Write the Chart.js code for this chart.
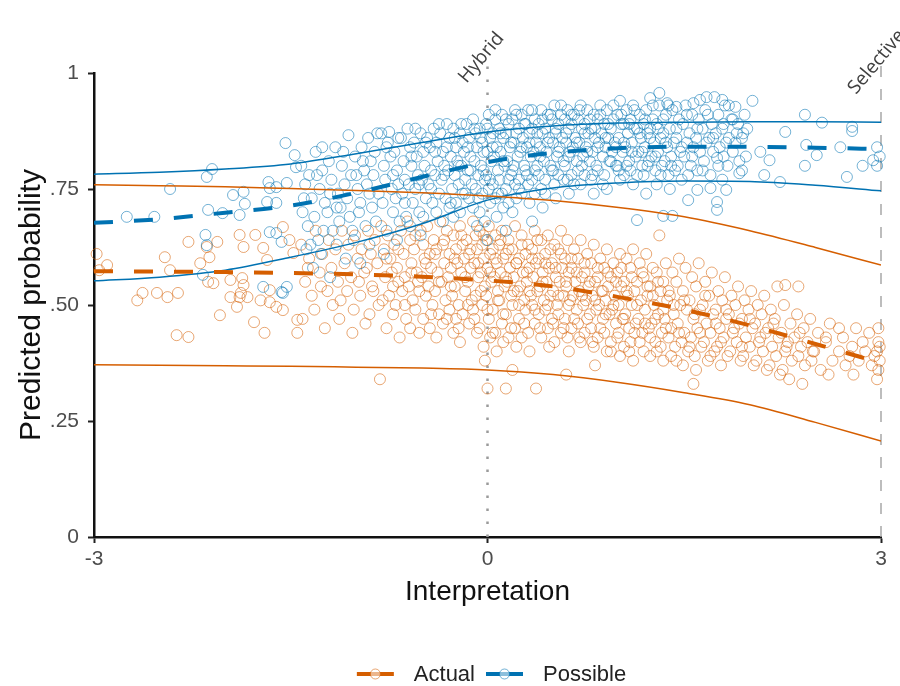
<!DOCTYPE html>
<html>
<head>
<meta charset="utf-8">
<script src="https://cdn.jsdelivr.net/npm/chart.js@4"></script>
<style>
  html, body { margin: 0; padding: 0; background: #fff; }
</style>
</head>
<body>
<canvas id="grafico" width="900" height="686"></canvas>
<script>
// curvas (media e intervalo)
const curveX = [-3, -2.5, -2, -1.5, -1, -0.5, 0, 0.5, 1, 1.5, 2, 2.5, 3];
const actualMean  = [0.573, 0.572, 0.571, 0.569, 0.566, 0.561, 0.553, 0.540, 0.517, 0.490, 0.456, 0.416, 0.375];
const actualUpper = [0.759, 0.757, 0.755, 0.751, 0.747, 0.742, 0.735, 0.725, 0.710, 0.690, 0.660, 0.624, 0.586];
const actualLower = [0.371, 0.370, 0.369, 0.368, 0.366, 0.364, 0.360, 0.350, 0.333, 0.311, 0.285, 0.247, 0.207];
const possibleMean  = [0.677, 0.685, 0.699, 0.714, 0.742, 0.776, 0.808, 0.828, 0.838, 0.841, 0.841, 0.839, 0.836];
const possibleUpper = [0.782, 0.786, 0.793, 0.804, 0.826, 0.850, 0.873, 0.886, 0.892, 0.894, 0.895, 0.895, 0.894];
const possibleLower = [0.552, 0.560, 0.575, 0.603, 0.635, 0.675, 0.726, 0.752, 0.763, 0.767, 0.766, 0.758, 0.746];

const seriesNames = ['Actual', 'Possible'];
const xTicks = [-3, 0, 3];
const yTicks = [0, 0.25, 0.5, 0.75, 1];
const yTickLabels = ['0', '.25', '.50', '.75', '1'];
const refLines = [0, 3];
const refLabels = ['Hybrid', 'Selective'];

// pontos individuais (x, y)
const actualPoints = [
  [-2.98,0.61],[-2.96,0.575],[-2.9,0.586],[-2.67,0.51],[-2.63,0.526],[-2.52,0.526],[-2.46,0.603],[-2.44,0.517],[-2.42,0.575],
  [-2.37,0.435],[-2.36,0.526],[-2.28,0.431],[-2.28,0.636],[-2.19,0.59],[-2.14,0.625],[-2.12,0.603],[-2.13,0.55],[-2.09,0.547],
  [-2.06,0.636],[-2.04,0.478],[-1.96,0.517],[-1.96,0.554],[-1.91,0.496],[-1.89,0.517],[-1.89,0.651],[-1.88,0.526],[-1.87,0.558],
  [-1.86,0.543],[-1.86,0.625],[-1.83,0.517],[-1.78,0.463],[-1.77,0.651],[-1.73,0.51],[-1.71,0.623],[-1.70,0.44],[-1.68,0.597],
  [-1.66,0.506],[-1.66,0.532],[-1.61,0.496],[-1.56,0.489],[-1.56,0.668],[-1.51,0.64],[-1.48,0.612],[-1.45,0.468],[-1.45,0.44],
  [-1.42,0.63],[-1.39,0.55],[-1.41,0.47],[-1.36,0.60],[-1.34,0.52],[-1.37,0.58],[-1.31,0.66],[-1.28,0.57],[-1.32,0.49],
  [-1.26,0.61],[-1.24,0.45],[-1.27,0.54],[-1.21,0.64],[-1.19,0.58],[-1.22,0.53],[-1.18,0.50],[-1.16,0.62],[-1.14,0.55],[-1.13,0.47],
  [-1.11,0.66],[-1.09,0.59],[-1.12,0.51],[-1.06,0.63],[-1.04,0.56],[-1.07,0.53],[-1.03,0.44],[-1.01,0.65],[-0.99,0.60],[-0.98,0.55],[-1.02,0.49],
  [-0.96,0.62],[-0.94,0.57],[-0.97,0.52],[-0.93,0.46],[-0.91,0.66],[-0.89,0.61],[-0.92,0.58],[-0.88,0.54],[-0.90,0.48],
  [-0.86,0.64],[-0.84,0.59],[-0.87,0.53],[-0.83,0.50],[-0.82,0.34],[-0.81,0.67],[-0.79,0.62],[-0.78,0.56],[-0.80,0.51],[-0.77,0.45],
  [-0.76,0.65],[-0.74,0.60],[-0.73,0.57],[-0.75,0.52],[-0.72,0.48],[-0.71,0.63],[-0.69,0.58],[-0.68,0.55],[-0.70,0.50],[-0.67,0.43],
  [-0.66,0.66],[-0.64,0.61],[-0.63,0.56],[-0.65,0.53],[-0.62,0.47],[-0.61,0.68],[-0.59,0.64],[-0.58,0.59],[-0.60,0.54],[-0.57,0.51],[-0.59,0.45],
  [-0.56,0.62],[-0.54,0.57],[-0.53,0.55],[-0.55,0.49],[-0.52,0.44],[-0.51,0.66],[-0.49,0.63],[-0.48,0.60],[-0.50,0.56],[-0.47,0.52],[-0.49,0.47],
  [-0.46,0.67],[-0.44,0.61],[-0.43,0.58],[-0.45,0.54],[-0.42,0.50],[-0.44,0.45],[-0.41,0.64],[-0.39,0.62],[-0.38,0.57],[-0.40,0.53],[-0.37,0.48],[-0.39,0.43],
  [-0.36,0.68],[-0.34,0.63],[-0.33,0.59],[-0.35,0.55],[-0.32,0.51],[-0.34,0.46],[-0.31,0.66],[-0.29,0.61],[-0.28,0.58],[-0.30,0.56],[-0.27,0.52],[-0.29,0.49],[-0.26,0.44],
  [-0.26,0.65],[-0.24,0.62],[-0.23,0.59],[-0.25,0.54],[-0.22,0.50],[-0.24,0.47],[-0.21,0.67],[-0.19,0.63],[-0.18,0.60],[-0.20,0.57],[-0.17,0.53],[-0.19,0.48],[-0.21,0.42],
  [-0.16,0.64],[-0.14,0.61],[-0.13,0.58],[-0.15,0.55],[-0.12,0.51],[-0.14,0.46],[-0.11,0.68],[-0.09,0.65],[-0.08,0.62],[-0.10,0.59],[-0.07,0.56],[-0.09,0.52],[-0.11,0.49],[-0.08,0.44],
  [-0.06,0.66],[-0.04,0.63],[-0.03,0.60],[-0.05,0.57],[-0.02,0.54],[-0.04,0.50],[-0.06,0.45],[-0.03,0.41],
  [0.01,0.67],[-0.01,0.64],[0.02,0.61],[0.00,0.58],[0.03,0.55],[-0.01,0.52],[0.01,0.47],[0.02,0.43],[-0.02,0.38],[0.00,0.32],
  [0.06,0.65],[0.04,0.62],[0.07,0.59],[0.05,0.56],[0.08,0.53],[0.04,0.49],[0.06,0.44],[0.07,0.40],
  [0.11,0.66],[0.09,0.63],[0.12,0.60],[0.10,0.57],[0.13,0.54],[0.09,0.51],[0.11,0.46],[0.12,0.42],[0.14,0.32],
  [0.16,0.64],[0.14,0.61],[0.17,0.58],[0.15,0.55],[0.18,0.52],[0.14,0.48],[0.16,0.43],
  [0.21,0.67],[0.19,0.62],[0.22,0.59],[0.20,0.56],[0.23,0.53],[0.19,0.50],[0.21,0.45],[0.22,0.41],[0.19,0.36],
  [0.26,0.65],[0.24,0.60],[0.27,0.57],[0.25,0.54],[0.28,0.51],[0.24,0.47],[0.26,0.43],
  [0.31,0.63],[0.29,0.61],[0.32,0.58],[0.30,0.55],[0.33,0.52],[0.29,0.49],[0.31,0.44],[0.32,0.40],[0.37,0.32],
  [0.36,0.66],[0.34,0.62],[0.37,0.59],[0.35,0.56],[0.38,0.53],[0.34,0.50],[0.36,0.46],
  [0.41,0.64],[0.39,0.60],[0.42,0.57],[0.40,0.54],[0.43,0.51],[0.39,0.48],[0.41,0.43],
  [0.46,0.65],[0.44,0.61],[0.47,0.58],[0.45,0.55],[0.48,0.52],[0.44,0.49],[0.46,0.45],[0.47,0.41],
  [0.51,0.63],[0.49,0.59],[0.52,0.56],[0.50,0.53],[0.53,0.50],[0.49,0.47],[0.51,0.42],
  [0.56,0.66],[0.54,0.62],[0.57,0.58],[0.55,0.55],[0.58,0.52],[0.54,0.48],[0.56,0.44],
  [0.61,0.64],[0.59,0.60],[0.62,0.57],[0.60,0.54],[0.63,0.51],[0.59,0.47],[0.61,0.43],[0.62,0.40],[0.60,0.35],
  [0.66,0.62],[0.64,0.58],[0.67,0.55],[0.65,0.52],[0.68,0.49],[0.64,0.45],
  [0.71,0.64],[0.69,0.60],[0.72,0.56],[0.70,0.53],[0.73,0.50],[0.69,0.46],[0.71,0.42],
  [0.76,0.61],[0.74,0.57],[0.77,0.54],[0.75,0.51],[0.78,0.48],[0.74,0.44],
  [0.81,0.63],[0.79,0.59],[0.82,0.55],[0.80,0.52],[0.83,0.49],[0.79,0.45],[0.81,0.41],[0.82,0.37],
  [0.86,0.60],[0.84,0.56],[0.87,0.53],[0.85,0.50],[0.88,0.47],[0.84,0.43],
  [0.91,0.62],[0.89,0.58],[0.92,0.54],[0.90,0.51],[0.93,0.48],[0.89,0.44],[0.91,0.40],
  [0.96,0.59],[0.94,0.56],[0.97,0.52],[0.95,0.49],[0.98,0.46],[0.94,0.42],
  [1.01,0.61],[0.99,0.57],[1.02,0.54],[1.00,0.50],[1.03,0.47],[0.99,0.43],[1.01,0.39],
  [1.06,0.60],[1.04,0.55],[1.07,0.52],[1.05,0.48],[1.08,0.45],[1.04,0.41],
  [1.11,0.62],[1.09,0.58],[1.12,0.53],[1.10,0.50],[1.13,0.46],[1.09,0.42],[1.11,0.38],
  [1.16,0.59],[1.14,0.55],[1.17,0.51],[1.15,0.47],[1.18,0.44],
  [1.21,0.61],[1.19,0.56],[1.22,0.52],[1.20,0.49],[1.23,0.45],[1.19,0.40],
  [1.26,0.58],[1.24,0.54],[1.27,0.50],[1.25,0.46],[1.28,0.42],[1.24,0.39],
  [1.31,0.65],[1.29,0.57],[1.32,0.53],[1.30,0.48],[1.33,0.44],[1.29,0.40],
  [1.36,0.59],[1.34,0.55],[1.37,0.51],[1.35,0.47],[1.38,0.43],[1.34,0.38],
  [1.41,0.57],[1.39,0.52],[1.42,0.48],[1.40,0.45],[1.43,0.41],
  [1.46,0.60],[1.44,0.55],[1.47,0.50],[1.45,0.46],[1.48,0.42],[1.44,0.38],
  [1.51,0.58],[1.49,0.53],[1.52,0.49],[1.50,0.44],[1.53,0.40],[1.49,0.37],
  [1.56,0.56],[1.54,0.51],[1.57,0.47],[1.55,0.43],[1.58,0.39],[1.57,0.33],
  [1.61,0.59],[1.59,0.54],[1.62,0.49],[1.60,0.45],[1.63,0.41],[1.59,0.36],
  [1.66,0.55],[1.64,0.50],[1.67,0.46],[1.65,0.42],[1.68,0.38],
  [1.71,0.57],[1.69,0.52],[1.72,0.48],[1.70,0.44],[1.73,0.40],
  [1.76,0.53],[1.74,0.49],[1.77,0.45],[1.75,0.41],[1.78,0.37],
  [1.81,0.56],[1.79,0.51],[1.82,0.47],[1.80,0.43],[1.83,0.39],
  [1.86,0.52],[1.84,0.48],[1.87,0.44],[1.85,0.40],
  [1.91,0.54],[1.89,0.50],[1.92,0.46],[1.90,0.42],[1.93,0.38],
  [1.96,0.51],[1.94,0.47],[1.97,0.43],[1.95,0.39],
  [2.01,0.53],[1.99,0.49],[2.02,0.45],[2.00,0.41],[2.03,0.37],
  [2.06,0.50],[2.04,0.46],[2.07,0.42],[2.05,0.38],
  [2.11,0.52],[2.09,0.48],[2.12,0.44],[2.10,0.40],[2.13,0.36],
  [2.16,0.49],[2.14,0.45],[2.17,0.41],[2.15,0.37],
  [2.21,0.54],[2.19,0.47],[2.22,0.43],[2.20,0.39],[2.23,0.35],
  [2.26,0.50],[2.24,0.44],[2.27,0.40],[2.25,0.36],[2.27,0.543],
  [2.31,0.46],[2.29,0.42],[2.32,0.38],[2.30,0.34],
  [2.36,0.48],[2.34,0.43],[2.37,0.39],[2.37,0.54],
  [2.41,0.45],[2.39,0.41],[2.42,0.37],[2.40,0.33],
  [2.46,0.47],[2.44,0.42],[2.47,0.38],
  [2.52,0.44],[2.49,0.40],[2.54,0.36],
  [2.61,0.46],[2.58,0.42],[2.63,0.38],[2.60,0.35],
  [2.71,0.43],[2.68,0.40],[2.73,0.37],
  [2.81,0.45],[2.78,0.41],[2.83,0.38],[2.79,0.35],
  [2.91,0.44],[2.88,0.40],[2.93,0.37],
  [2.98,0.42],[2.97,0.40],[2.99,0.38],[2.98,0.36],[2.97,0.34],[2.98,0.45],[2.99,0.41],
  // segunda camada do nucleo denso
  [-0.77,0.60],[-0.72,0.54],[-0.68,0.62],[-0.63,0.50],[-0.58,0.57],[-0.55,0.65],[-0.52,0.53],[-0.47,0.59],[-0.43,0.48],[-0.40,0.61],
  [-0.37,0.55],[-0.33,0.64],[-0.31,0.47],[-0.28,0.54],[-0.25,0.60],[-0.22,0.45],[-0.20,0.65],[-0.17,0.56],[-0.15,0.50],[-0.13,0.62],
  [-0.10,0.47],[-0.07,0.59],[-0.05,0.53],[-0.03,0.65],[0.00,0.49],[0.02,0.57],[0.04,0.44],[0.06,0.60],[0.08,0.51],[0.10,0.64],
  [0.12,0.48],[0.14,0.56],[0.16,0.62],[0.18,0.45],[0.20,0.53],[0.22,0.59],[0.24,0.50],[0.26,0.63],[0.28,0.46],[0.30,0.57],
  [0.32,0.53],[0.34,0.60],[0.36,0.49],[0.38,0.64],[0.40,0.45],[0.42,0.55],[0.44,0.59],[0.46,0.50],[0.48,0.62],[0.50,0.46],
  [0.52,0.58],[0.54,0.52],[0.56,0.61],[0.58,0.45],[0.60,0.55],[0.62,0.50],[0.64,0.60],[0.66,0.47],[0.68,0.57],[0.70,0.43],
  [0.72,0.52],[0.74,0.59],[0.76,0.47],[0.78,0.55],[0.80,0.42],[0.82,0.51],[0.84,0.58],[0.86,0.45],[0.88,0.53],[0.90,0.48],
  [0.92,0.57],[0.94,0.40],[0.96,0.50],[0.98,0.55],[1.00,0.44],[1.02,0.58],[1.04,0.47],[1.06,0.53],[1.08,0.40],[1.10,0.56],
  [1.12,0.44],[1.14,0.50],[1.16,0.42],[1.18,0.57],[1.20,0.46],[1.22,0.54],[1.24,0.43],[1.26,0.52],[1.28,0.47],[1.30,0.55],
  [1.32,0.41],[1.34,0.49],[1.36,0.45],[1.38,0.53],[1.40,0.39],[1.42,0.50],[1.46,0.44],[1.50,0.51],[1.54,0.41],[1.58,0.48],
  [1.62,0.44],[1.66,0.52],[1.70,0.39],[1.74,0.46],[1.78,0.42],[1.82,0.49],[1.88,0.45],[1.94,0.41],[2.00,0.47],[2.08,0.43],
  [2.18,0.46],[2.28,0.41],[2.38,0.44],[2.48,0.40],[2.58,0.43],[2.68,0.45],[2.76,0.39],[2.86,0.42],[2.95,0.39]
];

const possiblePoints = [
  [-2.75,0.69],[-2.54,0.69],[-2.42,0.75],[-2.15,0.651],[-2.14,0.776],[-2.14,0.629],[-2.13,0.705],[-2.17,0.565],[-2.10,0.793],
  [-2.02,0.698],[-1.94,0.737],[-1.89,0.694],[-1.86,0.744],[-1.85,0.718],[-1.71,0.539],[-1.68,0.722],[-1.67,0.765],[-1.66,0.752],
  [-1.66,0.657],[-1.61,0.754],[-1.61,0.72],[-1.61,0.655],[-1.57,0.636],[-1.57,0.528],[-1.54,0.849],[-1.53,0.763],[-1.53,0.539],
  [-1.47,0.823],[-1.46,0.797],[-1.56,0.526],
  [-1.42,0.80],[-1.39,0.76],[-1.41,0.70],[-1.38,0.62],[-1.36,0.78],[-1.34,0.73],[-1.37,0.67],[-1.33,0.58],
  [-1.31,0.83],[-1.28,0.75],[-1.32,0.69],[-1.29,0.64],[-1.26,0.79],[-1.24,0.72],[-1.27,0.61],[-1.26,0.84],
  [-1.21,0.81],[-1.19,0.77],[-1.22,0.70],[-1.18,0.66],[-1.20,0.56],[-1.16,0.84],[-1.14,0.74],[-1.13,0.68],[-1.15,0.63],
  [-1.11,0.80],[-1.09,0.76],[-1.12,0.71],[-1.08,0.60],[-1.06,0.866],[-1.04,0.78],[-1.07,0.73],[-1.03,0.66],
  [-1.01,0.82],[-0.99,0.75],[-0.98,0.70],[-1.02,0.64],[-0.97,0.59],[-0.96,0.84],[-0.94,0.79],[-0.97,0.72],[-0.93,0.67],
  [-0.91,0.86],[-0.89,0.81],[-0.92,0.76],[-0.88,0.71],[-0.90,0.63],[-0.86,0.83],[-0.84,0.87],[-0.87,0.78],[-0.83,0.74],[-0.85,0.68],
  [-0.81,0.87],[-0.79,0.80],[-0.78,0.77],[-0.80,0.72],[-0.77,0.66],[-0.79,0.61],[-0.76,0.85],[-0.74,0.82],[-0.75,0.873],[-0.73,0.75],[-0.72,0.70],
  [-0.71,0.83],[-0.69,0.79],[-0.68,0.76],[-0.70,0.73],[-0.67,0.68],[-0.69,0.64],[-0.66,0.86],[-0.64,0.81],[-0.63,0.77],[-0.65,0.74],[-0.62,0.69],
  [-0.61,0.88],[-0.59,0.84],[-0.58,0.80],[-0.60,0.76],[-0.57,0.72],[-0.59,0.67],[-0.56,0.85],[-0.54,0.82],[-0.53,0.78],[-0.55,0.75],[-0.52,0.70],
  [-0.51,0.87],[-0.49,0.83],[-0.48,0.80],[-0.50,0.77],[-0.47,0.73],[-0.49,0.69],[-0.51,0.65],[-0.46,0.86],[-0.44,0.84],[-0.43,0.79],[-0.45,0.76],[-0.42,0.72],
  [-0.41,0.88],[-0.39,0.85],[-0.38,0.81],[-0.40,0.78],[-0.37,0.74],[-0.39,0.70],[-0.36,0.87],[-0.34,0.83],[-0.33,0.80],[-0.35,0.77],[-0.32,0.73],[-0.34,0.68],
  [-0.31,0.89],[-0.29,0.86],[-0.28,0.82],[-0.30,0.79],[-0.27,0.75],[-0.29,0.71],[-0.26,0.88],[-0.24,0.84],[-0.23,0.81],[-0.25,0.78],[-0.22,0.76],[-0.24,0.72],[-0.26,0.69],
  [-0.21,0.87],[-0.19,0.85],[-0.18,0.83],[-0.20,0.80],[-0.17,0.77],[-0.19,0.74],[-0.21,0.70],[-0.16,0.89],[-0.14,0.86],[-0.13,0.82],[-0.15,0.79],[-0.12,0.76],[-0.14,0.73],
  [-0.11,0.90],[-0.09,0.87],[-0.08,0.84],[-0.10,0.81],[-0.07,0.78],[-0.09,0.75],[-0.11,0.71],[-0.08,0.67],
  [-0.06,0.88],[-0.04,0.85],[-0.03,0.83],[-0.05,0.80],[-0.02,0.77],[-0.04,0.74],[-0.06,0.70],
  [0.01,0.91],[-0.01,0.89],[0.02,0.86],[0.00,0.83],[0.03,0.81],[-0.01,0.78],[0.01,0.75],[0.02,0.72],[-0.02,0.68],[0.00,0.64],
  [0.06,0.90],[0.04,0.87],[0.07,0.84],[0.05,0.82],[0.08,0.79],[0.04,0.76],[0.06,0.73],[0.07,0.69],
  [0.11,0.91],[0.09,0.88],[0.12,0.86],[0.10,0.83],[0.13,0.80],[0.09,0.77],[0.11,0.74],[0.12,0.71],[0.14,0.66],
  [0.16,0.89],[0.14,0.87],[0.17,0.84],[0.15,0.81],[0.18,0.78],[0.14,0.75],[0.16,0.72],
  [0.21,0.92],[0.19,0.90],[0.22,0.87],[0.20,0.85],[0.23,0.82],[0.19,0.79],[0.21,0.76],[0.22,0.73],[0.19,0.70],
  [0.26,0.91],[0.24,0.88],[0.27,0.86],[0.25,0.83],[0.28,0.80],[0.24,0.77],[0.26,0.74],
  [0.31,0.92],[0.29,0.89],[0.32,0.87],[0.30,0.84],[0.33,0.82],[0.29,0.79],[0.31,0.76],[0.32,0.72],[0.34,0.68],
  [0.36,0.90],[0.34,0.88],[0.37,0.85],[0.35,0.83],[0.38,0.80],[0.34,0.77],[0.36,0.74],
  [0.41,0.92],[0.39,0.89],[0.42,0.87],[0.40,0.84],[0.43,0.81],[0.39,0.78],[0.41,0.75],[0.42,0.71],
  [0.46,0.91],[0.44,0.88],[0.47,0.86],[0.45,0.83],[0.48,0.80],[0.44,0.77],
  [0.51,0.93],[0.49,0.90],[0.52,0.87],[0.50,0.85],[0.53,0.82],[0.49,0.79],[0.51,0.76],[0.52,0.73],
  [0.56,0.91],[0.54,0.89],[0.57,0.86],[0.55,0.84],[0.58,0.81],[0.54,0.78],
  [0.61,0.92],[0.59,0.90],[0.62,0.88],[0.60,0.85],[0.63,0.83],[0.59,0.80],[0.61,0.77],[0.62,0.74],
  [0.66,0.91],[0.64,0.89],[0.67,0.86],[0.65,0.84],[0.68,0.81],[0.64,0.78],
  [0.71,0.93],[0.69,0.90],[0.72,0.88],[0.70,0.85],[0.73,0.82],[0.69,0.79],[0.71,0.76],
  [0.76,0.92],[0.74,0.89],[0.77,0.87],[0.75,0.84],[0.78,0.81],[0.74,0.78],
  [0.81,0.91],[0.79,0.88],[0.82,0.86],[0.80,0.83],[0.83,0.80],[0.79,0.77],[0.81,0.74],
  [0.86,0.93],[0.84,0.90],[0.87,0.87],[0.85,0.85],[0.88,0.82],[0.84,0.79],
  [0.91,0.92],[0.89,0.89],[0.92,0.86],[0.90,0.84],[0.93,0.81],[0.89,0.78],[0.91,0.75],
  [0.96,0.90],[0.94,0.88],[0.97,0.85],[0.95,0.83],[0.98,0.80],
  [1.01,0.94],[0.99,0.91],[1.02,0.89],[1.00,0.86],[1.03,0.83],[0.99,0.80],[1.01,0.77],
  [1.06,0.92],[1.04,0.89],[1.07,0.87],[1.05,0.84],[1.08,0.81],[1.04,0.78],
  [1.11,0.93],[1.09,0.90],[1.12,0.88],[1.10,0.85],[1.13,0.82],[1.09,0.79],[1.11,0.76],
  [1.16,0.91],[1.14,0.88],[1.17,0.86],[1.15,0.83],[1.18,0.80],[1.14,0.683],
  [1.21,0.92],[1.19,0.89],[1.22,0.87],[1.20,0.84],[1.23,0.81],[1.19,0.78],[1.21,0.74],
  [1.26,0.90],[1.24,0.88],[1.27,0.85],[1.25,0.82],[1.28,0.79],[1.24,0.946],
  [1.31,0.93],[1.29,0.89],[1.32,0.86],[1.30,0.83],[1.33,0.80],[1.29,0.76],[1.31,0.957],
  [1.36,0.91],[1.34,0.87],[1.37,0.84],[1.35,0.81],[1.38,0.78],[1.34,0.692],[1.37,0.935],
  [1.41,0.92],[1.39,0.88],[1.42,0.85],[1.40,0.82],[1.43,0.79],[1.39,0.75],[1.41,0.692],
  [1.46,0.90],[1.44,0.86],[1.47,0.83],[1.45,0.80],[1.48,0.77],[1.44,0.927],
  [1.51,0.93],[1.49,0.89],[1.52,0.85],[1.50,0.82],[1.53,0.78],[1.53,0.726],
  [1.56,0.91],[1.54,0.87],[1.57,0.84],[1.55,0.80],[1.57,0.935],
  [1.61,0.90],[1.59,0.86],[1.62,0.83],[1.60,0.79],[1.62,0.942],[1.60,0.748],
  [1.66,0.92],[1.64,0.88],[1.67,0.85],[1.65,0.81],[1.67,0.948],
  [1.71,0.89],[1.69,0.86],[1.72,0.83],[1.70,0.78],[1.73,0.948],[1.70,0.752],
  [1.76,0.91],[1.74,0.87],[1.77,0.84],[1.75,0.722],[1.75,0.705],[1.75,0.817],
  [1.81,0.93],[1.79,0.88],[1.82,0.85],[1.80,0.82],[1.79,0.942],[1.79,0.77],[1.82,0.748],[1.83,0.80],
  [1.86,0.90],[1.84,0.86],[1.87,0.83],[1.87,0.90],[1.89,0.927],
  [1.91,0.89],[1.89,0.85],[1.92,0.81],[1.92,0.784],
  [1.96,0.91],[1.94,0.86],[1.97,0.82],[1.95,0.87],[1.98,0.88],
  [2.02,0.94],[2.08,0.83],[2.11,0.78],[2.15,0.812],[2.23,0.765],[2.27,0.873],[2.42,0.91],[2.42,0.80],[2.43,0.845],
  [2.51,0.823],[2.55,0.893],[2.69,0.84],[2.74,0.776],[2.78,0.884],[2.78,0.875],[2.86,0.80],[2.94,0.812],[2.97,0.80],[2.97,0.84],[2.99,0.82],
  // segunda camada do nucleo denso
  [-0.77,0.84],[-0.72,0.78],[-0.68,0.86],[-0.63,0.72],[-0.58,0.82],[-0.55,0.88],[-0.52,0.76],[-0.47,0.85],[-0.43,0.75],[-0.40,0.83],
  [-0.37,0.89],[-0.33,0.78],[-0.31,0.84],[-0.28,0.72],[-0.25,0.86],[-0.22,0.80],[-0.20,0.89],[-0.17,0.74],[-0.15,0.84],[-0.13,0.79],
  [-0.10,0.88],[-0.07,0.73],[-0.05,0.86],[-0.03,0.79],[0.00,0.88],[0.02,0.77],[0.04,0.84],[0.06,0.92],[0.08,0.74],[0.10,0.87],
  [0.12,0.81],[0.14,0.90],[0.16,0.77],[0.18,0.85],[0.20,0.80],[0.22,0.91],[0.24,0.75],[0.26,0.84],[0.28,0.89],[0.30,0.78],
  [0.32,0.85],[0.34,0.92],[0.36,0.79],[0.38,0.87],[0.40,0.82],[0.42,0.90],[0.44,0.74],[0.46,0.85],[0.48,0.91],[0.50,0.79],
  [0.52,0.88],[0.54,0.83],[0.56,0.93],[0.58,0.77],[0.60,0.87],[0.62,0.82],[0.64,0.91],[0.66,0.76],[0.68,0.85],[0.70,0.92],
  [0.72,0.80],[0.74,0.87],[0.76,0.83],[0.78,0.90],[0.80,0.78],[0.82,0.88],[0.84,0.84],[0.86,0.91],[0.88,0.76],[0.90,0.86],
  [0.92,0.89],[0.94,0.81],[0.96,0.93],[0.98,0.84],[1.00,0.79],[1.02,0.91],[1.04,0.85],[1.06,0.80],[1.08,0.89],[1.10,0.83],
  [1.12,0.92],[1.14,0.78],[1.16,0.87],[1.18,0.83],[1.20,0.90],[1.22,0.80],[1.24,0.86],[1.26,0.93],[1.28,0.82],[1.30,0.88],
  [1.32,0.78],[1.34,0.90],[1.36,0.85],[1.38,0.93],[1.40,0.80],[1.44,0.88],[1.48,0.84],[1.52,0.91],[1.56,0.82],[1.60,0.88],
  [1.64,0.79],[1.68,0.91],[1.72,0.86],[1.76,0.80],[1.80,0.89],[1.84,0.93],[1.90,0.87],[1.94,0.79],
  [-0.90,0.74],[-0.95,0.81],[-1.00,0.78],[-1.05,0.69],[-1.10,0.83],[-1.15,0.71],[-1.20,0.74],[-1.25,0.66],[-1.30,0.78],[-1.35,0.63],[-1.40,0.73]
];

// cores
const corLaranja = '#D55E00';
const corAzul = '#0072B2';
const pontoLaranja = 'rgba(213, 94, 0, 0.55)';
const pontoAzul = 'rgba(0, 114, 178, 0.55)';
const fonte = '"Liberation Sans", Arial, sans-serif';

Chart.defaults.font.family = fonte;

function curva(valores) {
    return curveX.map((x, i) => ({ x: x, y: valores[i] }));
}

function pontos(lista) {
    return lista.map(p => ({ x: p[0], y: p[1] }));
}

function linhaCurva(valores, cor, tracejada, ordem) {
    return {
        type: 'line',
        data: curva(valores),
        borderColor: cor,
        borderWidth: tracejada ? 4 : 1.5,
        borderDash: tracejada ? [19, 21] : [],
        pointRadius: 0,
        pointHoverRadius: 0,
        cubicInterpolationMode: 'monotone',
        fill: false,
        order: ordem
    };
}

function nuvem(lista, cor, ordem) {
    return {
        type: 'scatter',
        data: pontos(lista),
        borderColor: cor,
        backgroundColor: 'rgba(255,255,255,0)',
        pointRadius: 5.5,
        pointBorderWidth: 1,
        pointHoverRadius: 5.5,
        clip: false,
        order: ordem
    };
}

function linhaRef(x, estilo) {
    return {
        type: 'line',
        data: [{ x: x, y: 0 }, { x: x, y: 1.02 }],
        borderColor: estilo.cor,
        borderWidth: estilo.largura,
        borderDash: estilo.traco,
        pointRadius: 0,
        clip: false,
        order: 10
    };
}

const datasets = [
    linhaCurva(actualMean, corLaranja, true, 0),
    linhaCurva(possibleMean, corAzul, true, 0),
    linhaCurva(actualUpper, corLaranja, false, 1),
    linhaCurva(actualLower, corLaranja, false, 1),
    linhaCurva(possibleUpper, corAzul, false, 1),
    linhaCurva(possibleLower, corAzul, false, 1),
    nuvem(possiblePoints, pontoAzul, 3),
    nuvem(actualPoints, pontoLaranja, 4),
    linhaRef(refLines[0], { cor: '#9a9a9a', largura: 2.5, traco: [2.5, 10.5] }),
    linhaRef(refLines[1], { cor: '#a8a8a8', largura: 1.5, traco: [11, 12] })
];

// rotulos inclinados das linhas de referencia + legenda embaixo
const extras = {
    id: 'extras',
    afterDraw(chart) {
        const ctx = chart.ctx;
        const xs = chart.scales.x;
        const desloc = [[-21, 84], [-25, 95]];
        refLines.forEach((v, i) => {
            const px = xs.getPixelForValue(v);
            ctx.save();
            ctx.translate(px + desloc[i][0], desloc[i][1]);
            ctx.rotate(-50 * Math.PI / 180);
            ctx.font = '19px "Open Sans", sans-serif';
            ctx.fillStyle = '#404040';
            ctx.textAlign = 'left';
            ctx.textBaseline = 'alphabetic';
            ctx.fillText(refLabels[i], 0, 0);
            ctx.restore();
        });

        // legenda
        const cores = [corLaranja, corAzul];
        const coresPonto = [pontoLaranja, pontoAzul];
        const chave = 37, gapTexto = 20, gapItem = 11;
        ctx.save();
        ctx.font = '22px ' + fonte;
        const larguras = seriesNames.map(n => ctx.measureText(n).width);
        let total = 0;
        larguras.forEach((w, i) => { total += chave + gapTexto + w + (i < larguras.length - 1 ? gapItem : 0); });
        let x = (chart.chartArea.left + chart.chartArea.right) / 2 + 4 - total / 2;
        const y = 674;
        seriesNames.forEach((n, i) => {
            ctx.strokeStyle = cores[i];
            ctx.lineWidth = 4;
            ctx.setLineDash([]);
            ctx.beginPath();
            ctx.moveTo(x, y);
            ctx.lineTo(x + chave, y);
            ctx.stroke();
            ctx.beginPath();
            ctx.arc(x + chave / 2, y, 5, 0, Math.PI * 2);
            ctx.fillStyle = 'rgba(255,255,255,0.55)';
            ctx.fill();
            ctx.lineWidth = 1;
            ctx.strokeStyle = coresPonto[i];
            ctx.stroke();
            ctx.fillStyle = '#222';
            ctx.textAlign = 'left';
            ctx.textBaseline = 'middle';
            ctx.fillText(n, x + chave + gapTexto, y + 1);
            x += chave + gapTexto + larguras[i] + gapItem;
        });
        ctx.restore();
    }
};

const cxt = document.getElementById('grafico').getContext('2d');

const chart = new Chart(cxt, {
    type: 'scatter',
    data: { datasets: datasets },
    options: {
        responsive: false,
        animation: false,
        events: [],
        layout: { padding: { top: 73, right: 19, bottom: 686 - 537 - 72, left: 0 } },
        plugins: {
            legend: { display: false },
            tooltip: { enabled: false }
        },
        scales: {
            x: {
                type: 'linear',
                min: -3,
                max: 3,
                afterBuildTicks: s => { s.ticks = xTicks.map(v => ({ value: v })); },
                afterFit: s => { s.height = 72; },
                grid: { drawOnChartArea: false, drawTicks: true, tickLength: 6, tickColor: '#222', tickWidth: 2, color: '#222' },
                border: { display: true, color: '#111', width: 2.5 },
                ticks: { color: '#4d4d4d', font: { size: 21 }, padding: 4, maxRotation: 0 },
                title: { display: true, text: 'Interpretation', color: '#111', font: { size: 28 }, padding: { top: 0, bottom: 0 } }
            },
            y: {
                type: 'linear',
                min: 0,
                max: 1,
                afterBuildTicks: s => { s.ticks = yTicks.map(v => ({ value: v })); },
                afterFit: s => { s.width = 94; },
                grid: { drawOnChartArea: false, drawTicks: true, tickLength: 6, tickColor: '#222', tickWidth: 2, color: '#222' },
                border: { display: true, color: '#111', width: 2.5 },
                ticks: {
                    color: '#4d4d4d',
                    font: { size: 21 },
                    padding: 9,
                    callback: v => yTickLabels[yTicks.indexOf(v)]
                },
                title: { display: true, text: 'Predicted probability', color: '#111', font: { size: 30 }, padding: { top: 14, bottom: 0 } }
            }
        }
    },
    plugins: [extras]
});
</script>
</body>
</html>
